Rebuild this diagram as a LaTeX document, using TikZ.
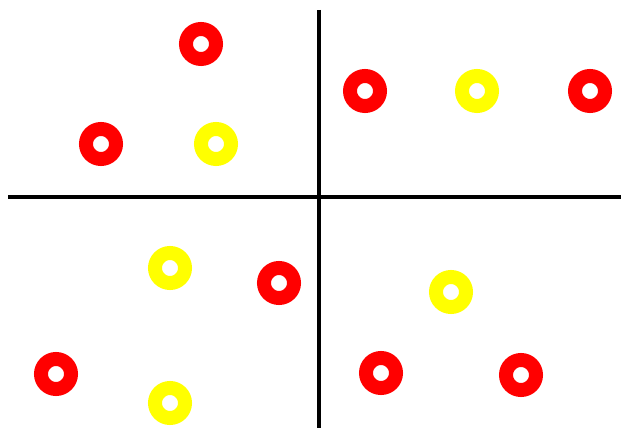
\documentclass[tikz,border=0pt]{standalone}
\usepackage{xcolor}
\usepackage{tikz}
\usetikzlibrary{positioning}

\definecolor{ringred}{RGB}{255,0,0}
\definecolor{ringyellow}{RGB}{255,255,0}

\begin{document}
\begin{tikzpicture}[x=0.02cm, y=-0.02cm,
    ring/.style={circle, draw=#1, line width=0.28cm, minimum size=0.6cm, inner sep=0pt}]
    \useasboundingbox (0,0) rectangle (621,428);

    % Axes
    \coordinate (top) at (319,10);
    \coordinate (bottom) at (319,428);
    \coordinate (left) at (8,197);
    \coordinate (right) at (621,197);
    \draw[line width=0.08cm] (top) -- (bottom);
    \draw[line width=0.08cm] (left) -- (right);

    % Red rings
    \foreach \n/\x/\y in {r1/201/44, r2/365/91, r3/590/91, r4/101/144,
                          r5/279/283, r6/56/374, r7/381/373, r8/521/375} {
        \node[ring=ringred] (\n) at (\x,\y) {};
    }

    % Yellow rings
    \foreach \n/\x/\y in {y1/477/91, y2/216/144, y3/170/268, y4/451/292, y5/170/403} {
        \node[ring=ringyellow] (\n) at (\x,\y) {};
    }
\end{tikzpicture}
\end{document}
